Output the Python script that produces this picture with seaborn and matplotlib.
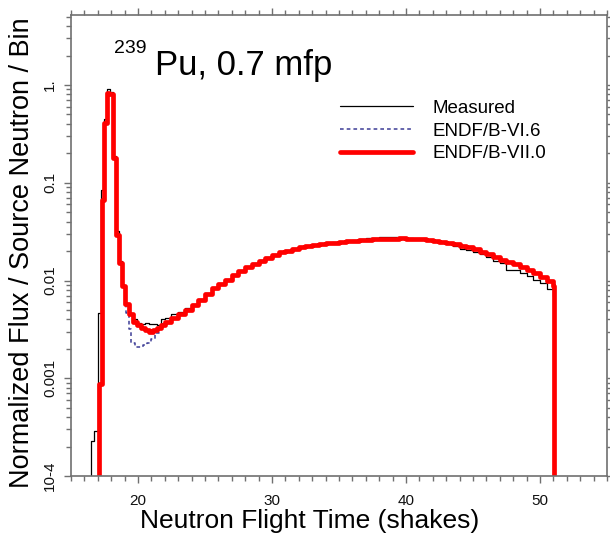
import numpy as np
import pandas as pd
import matplotlib
matplotlib.use("Agg")
import matplotlib.pyplot as plt
import seaborn as sns
from matplotlib.ticker import FixedLocator, FixedFormatter, LogLocator, MultipleLocator, NullFormatter

# ---------------- data ----------------
mid_t = [22.0, 22.5, 23.0, 23.5, 24.0, 24.5, 25.0, 25.5, 26.0, 26.5, 27.0, 27.5, 28.0, 28.5,
         29.0, 29.5, 30.0, 30.5, 31.0, 31.5, 32.0, 32.5, 33.0, 33.5, 34.0, 34.5, 35.0, 35.5,
         36.0, 36.5, 37.0, 37.5, 38.0, 38.5, 39.0, 39.5, 40.0, 40.5, 41.0, 41.5, 42.0, 42.5,
         43.0, 43.5, 44.0, 44.5, 45.0, 45.5, 46.0, 46.5, 47.0, 47.5, 48.0, 48.5, 49.0, 49.5,
         50.0, 50.5, 51.0]

# ENDF/B-VII.0
t_b7 = [17.0, 17.1, 17.3, 17.45, 17.7, 17.85, 18.15, 18.35, 18.55, 18.8, 19.0, 19.3, 19.6,
        19.9, 20.2, 20.5, 20.8, 21.1, 21.4, 21.7] + mid_t + [51.05]
y_b7 = [1e-6, 8.7e-4, 0.067, 0.41, 0.83, 0.80, 0.18, 0.029, 0.015, 0.0087, 0.0057, 0.0045, 0.0038,
        0.0035, 0.0033, 0.0031, 0.0030, 0.0031, 0.0033, 0.0035,
        0.0038, 0.0041, 0.0045, 0.0050, 0.0056, 0.0063, 0.0072, 0.0083, 0.0093, 0.0101, 0.0113,
        0.0124, 0.0136, 0.0148, 0.0160, 0.0170, 0.0184, 0.0194, 0.0202, 0.0210, 0.0218, 0.0225,
        0.0230, 0.0235, 0.0240, 0.0242, 0.0246, 0.0252, 0.0256, 0.0258, 0.0262, 0.0264, 0.0266,
        0.0268, 0.0268, 0.0270, 0.0268, 0.0266, 0.0264, 0.0260, 0.0256, 0.0250, 0.0244, 0.0236,
        0.0227, 0.0218, 0.0208, 0.0198, 0.0186, 0.0175, 0.0164, 0.0154, 0.0146, 0.0137, 0.0129,
        0.0118, 0.0108, 0.0098, 0.0087, 1e-6]

# ENDF/B-VI.6
t_b6 = [17.0, 17.1, 17.3, 17.45, 17.7, 17.85, 18.15, 18.35, 18.55, 18.8, 19.0, 19.1, 19.3, 19.5,
        19.8, 20.1, 20.4, 20.7, 21.0, 21.3, 21.6, 21.8] + mid_t + [51.05]
y_b6 = [1e-6, 8.7e-4, 0.067, 0.41, 0.83, 0.80, 0.18, 0.029, 0.015, 0.0087, 0.0057, 0.0047, 0.0032,
        0.0023, 0.0021, 0.0021, 0.0022, 0.0023, 0.0025, 0.0029, 0.0033, 0.0036,
        0.0038, 0.0041, 0.0045, 0.0050, 0.0056, 0.0063, 0.0072, 0.0083, 0.0093, 0.0101, 0.0113,
        0.0124, 0.0136, 0.0148, 0.0160, 0.0170, 0.0184, 0.0194, 0.0202, 0.0210, 0.0218, 0.0225,
        0.0230, 0.0235, 0.0240, 0.0242, 0.0246, 0.0252, 0.0256, 0.0258, 0.0262, 0.0264, 0.0266,
        0.0268, 0.0268, 0.0270, 0.0268, 0.0266, 0.0264, 0.0260, 0.0256, 0.0250, 0.0244, 0.0236,
        0.0227, 0.0218, 0.0208, 0.0198, 0.0186, 0.0175, 0.0164, 0.0154, 0.0146, 0.0137, 0.0129,
        0.0118, 0.0108, 0.0098, 0.0087, 1e-6]

# Measured
t_meas = [16.0, 16.5, 16.7, 17.0, 17.25, 17.45, 17.7, 17.9, 18.15, 18.35, 18.55, 18.8, 19.0, 19.3,
          19.6, 19.9, 20.2, 20.5, 20.8, 21.1, 21.4, 21.7] + mid_t + [51.05]
y_meas = [1e-6, 2.3e-4, 2.9e-4, 0.0047, 0.085, 0.45, 0.90, 0.85, 0.19, 0.032, 0.016, 0.0090, 0.0058,
          0.0045, 0.0040, 0.0037, 0.0036, 0.0037, 0.0036, 0.0036, 0.0035, 0.0040,
          0.0041, 0.0045, 0.0048, 0.0052, 0.0058, 0.0065, 0.0074, 0.0084, 0.0094, 0.0103, 0.0114,
          0.0125, 0.0137, 0.0150, 0.0161, 0.0172, 0.0185, 0.0196, 0.0204, 0.0213, 0.0222, 0.0226,
          0.0233, 0.0238, 0.0243, 0.0247, 0.0250, 0.0256, 0.0262, 0.0266, 0.0270, 0.0274, 0.0280,
          0.0276, 0.0278, 0.0275, 0.0272, 0.0268, 0.0266, 0.0262, 0.0255, 0.0248, 0.0240, 0.0228,
          0.0212, 0.0205, 0.0198, 0.0188, 0.0176, 0.0160, 0.0150, 0.0128, 0.0127, 0.0120, 0.0112,
          0.0102, 0.0094, 0.0082, 0.0069, 1e-6]

series_labels = ["Measured", "ENDF/B-VI.6", "ENDF/B-VII.0"]
ytick_vals = [1e-4, 1e-3, 1e-2, 1e-1, 1.0]
ytick_labels = ["10-4", "0.001", "0.01", "0.1", "1."]
xtick_vals = [20, 30, 40, 50]

# ---------------- style ----------------
sns.set_theme(style="ticks")
plt.rcParams["font.family"] = ["Liberation Sans", "DejaVu Sans"]
plt.rcParams["text.color"] = "black"
plt.rcParams["axes.labelcolor"] = "black"
axis_grey = "#707070"

fig = plt.figure(figsize=(6.1, 5.4), dpi=100)
ax = fig.add_axes([0.1164, 0.1185, 0.995 - 0.1164, 0.9722 - 0.1185])

df_m = pd.DataFrame({"t": t_meas, "v": y_meas})
df_6 = pd.DataFrame({"t": t_b6, "v": y_b6})
df_7 = pd.DataFrame({"t": t_b7, "v": y_b7})

sns.lineplot(data=df_m, x="t", y="v", ax=ax, color="black", linewidth=0.9,
             drawstyle="steps-post", estimator=None, sort=False, label=series_labels[0])
sns.lineplot(data=df_6, x="t", y="v", ax=ax, color="#3c3c96", linewidth=1.1,
             dashes=False, linestyle=(0, (2.4, 2.0)),
             drawstyle="steps-post", estimator=None, sort=False, label=series_labels[1])
sns.lineplot(data=df_7, x="t", y="v", ax=ax, color="#ff0000", linewidth=3.4,
             drawstyle="steps-post", estimator=None, sort=False, label=series_labels[2])

ax.set_yscale("log")
ax.set_xlim(15, 55)
ax.set_ylim(1e-4, 5.2)

ax.yaxis.set_major_locator(FixedLocator(ytick_vals))
ax.yaxis.set_major_formatter(FixedFormatter(ytick_labels))
ax.yaxis.set_minor_locator(LogLocator(base=10, subs=np.arange(2, 10), numticks=20))
ax.yaxis.set_minor_formatter(NullFormatter())
ax.xaxis.set_major_locator(FixedLocator(xtick_vals))
ax.xaxis.set_minor_locator(MultipleLocator(1))

for s in ax.spines.values():
    s.set_visible(True)
    s.set_color(axis_grey)
    s.set_linewidth(1.2)

ax.tick_params(which="both", direction="out", top=True, right=True, color=axis_grey, width=1.0)
ax.tick_params(which="major", length=5)
ax.tick_params(which="minor", length=3.5)
ax.tick_params(axis="x", which="major", labelsize=11, pad=8, labelcolor="#111111")
ax.tick_params(axis="y", which="major", labelsize=11, pad=5, labelcolor="#111111")
for lbl in ax.get_yticklabels():
    lbl.set_rotation(90)
    lbl.set_va("center")

ax.set_xlabel("Neutron Flight Time (shakes)", fontsize=19, labelpad=2, color="black")
ax.xaxis.set_label_coords(0.445, -0.072)
ax.set_ylabel("Normalized Flux / Source Neutron / Bin", fontsize=19.5, color="black")
ax.yaxis.set_label_coords(-0.068, 0.485)

# title inside plot
fig.text(114 / 610, 1 - 53 / 540, "239", fontsize=14, va="baseline", ha="left", color="black")
fig.text(155 / 610, 1 - 75 / 540, "Pu, 0.7 mfp", fontsize=25, va="baseline", ha="left", color="black")

leg = ax.legend(loc="upper left", bbox_to_anchor=(0.501, 0.816), frameon=False,
                fontsize=13.5, handlelength=3.9, handletextpad=1.05, labelspacing=0.3,
                borderpad=0, borderaxespad=0)
for txt in leg.get_texts():
    txt.set_color("black")

fig.savefig("out.png", dpi=100)
